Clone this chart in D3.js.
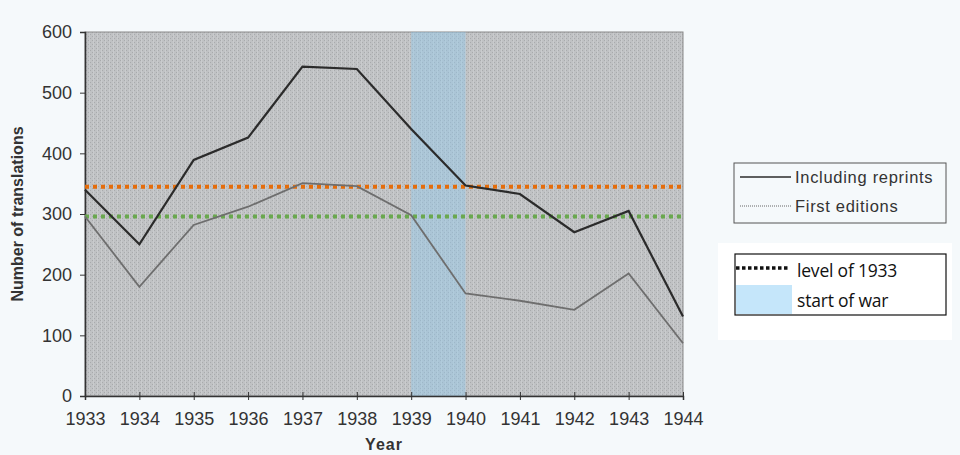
<!DOCTYPE html>
<html><head><meta charset="utf-8">
<script src="https://cdn.jsdelivr.net/npm/d3@7"></script>
<style>
html,body{margin:0;padding:0;background:#f5f9fb;}
svg{display:block;}
</style></head>
<body>
<svg id="chart" width="960" height="455"></svg>
<script>
const years = [1933,1934,1935,1936,1937,1938,1939,1940,1941,1942,1943,1944];
const includingReprints = [340,250,389,426,543,539,440,347,333,270,305,131];
const firstEditions = [296,180,282,312,351,346,298,169,157,142,202,87];
const level1933 = [345,296];
const levelColors = ["#e46c0a","#6aa84f"];
const warStart = [1939,1940];
const yTicks = [0,100,200,300,400,500,600];

const FONT = "Liberation Sans, Arial, Helvetica, sans-serif";
const svg = d3.select("#chart");
const x = d3.scaleLinear().domain([1933,1944]).range([85,683]);
const y = d3.scaleLinear().domain([0,600]).range([396,32]);

const defs = svg.append("defs");
const pat = defs.append("pattern").attr("id","tex").attr("patternUnits","userSpaceOnUse").attr("width",4).attr("height",4);
pat.append("rect").attr("width",4).attr("height",4).attr("fill","#c0c2c4");
pat.append("rect").attr("x",0).attr("y",0).attr("width",1).attr("height",1).attr("fill","#a8aaac");
pat.append("rect").attr("x",2).attr("y",2).attr("width",1).attr("height",1).attr("fill","#a8aaac");
pat.append("rect").attr("x",1).attr("y",0).attr("width",1).attr("height",4).attr("fill","#c9cbcd");

// plot background
svg.append("rect").attr("x",x(1933)).attr("y",y(600)).attr("width",x(1944)-x(1933)).attr("height",y(0)-y(600))
  .attr("fill","url(#tex)").attr("stroke","#8a8a8a").attr("stroke-width",1);

// war band
svg.append("rect").attr("x",x(warStart[0])).attr("y",y(600)).attr("width",x(warStart[1])-x(warStart[0])).attr("height",y(0)-y(600))
  .attr("fill","#8fcbef").attr("opacity",0.42);

// axes
const yAxis = d3.axisLeft(y).tickValues(yTicks).tickSize(5).tickPadding(8);
const gy = svg.append("g").attr("transform",`translate(${x(1933)},0)`).call(yAxis);
gy.attr("font-family",FONT).attr("font-size",18);
gy.select(".domain").attr("stroke","#333").attr("stroke-width",1.5);
gy.selectAll(".tick line").attr("stroke","#333");
gy.selectAll("text").attr("fill","#333").style("font-size","18px").style("font-family",FONT);

const xAxis = d3.axisBottom(x).tickValues(years).tickFormat(d3.format("d")).tickSize(4).tickPadding(12);
const gx = svg.append("g").attr("transform",`translate(0,${y(0)})`).call(xAxis);
gx.attr("font-family",FONT).attr("font-size",18);
gx.select(".domain").attr("stroke","#333").attr("stroke-width",1.5);
gx.selectAll(".tick line").attr("stroke","#333").attr("y1",-4);
gx.selectAll("text").attr("fill","#333").style("font-size","18px").style("font-family",FONT);

// level lines
level1933.forEach((v,i)=>{
  svg.append("line").attr("x1",x(1933)).attr("x2",x(1944)).attr("y1",y(v)).attr("y2",y(v))
    .attr("stroke",levelColors[i]).attr("stroke-width",4).attr("stroke-dasharray","4 4");
});

// series
const line = d3.line().x((d,i)=>x(years[i])).y(d=>y(d));
svg.append("path").datum(firstEditions).attr("d",line).attr("fill","none").attr("stroke","#6e6e6e").attr("stroke-width",1.8);
svg.append("path").datum(includingReprints).attr("d",line).attr("fill","none").attr("stroke","#2b2b2b").attr("stroke-width",2.2);

// axis titles
svg.append("text").attr("transform",`translate(23,214) rotate(-90)`).attr("text-anchor","middle")
  .style("font-family",FONT).attr("font-weight","bold").style("font-size","16px").attr("fill","#333")
  .text("Number of translations");
svg.append("text").attr("x",384).attr("y",450).attr("text-anchor","middle")
  .style("font-family",FONT).attr("font-weight","bold").style("font-size","16px").attr("letter-spacing",1).attr("fill","#333")
  .text("Year");

// legend 1
const l1 = svg.append("g");
l1.append("rect").attr("x",734).attr("y",163).attr("width",212).attr("height",60).attr("fill","none").attr("stroke","#555").attr("stroke-width",1);
l1.append("line").attr("x1",740).attr("x2",791).attr("y1",177).attr("y2",177).attr("stroke","#2b2b2b").attr("stroke-width",1.6);
l1.append("line").attr("x1",740).attr("x2",791).attr("y1",206).attr("y2",206).attr("stroke","#666").attr("stroke-width",1).attr("stroke-dasharray","1 1");
l1.append("text").attr("x",795).attr("y",183).style("font-family",FONT).style("font-size","16.5px").attr("letter-spacing",0.7).attr("fill","#333").text("Including reprints");
l1.append("text").attr("x",795).attr("y",212).style("font-family",FONT).style("font-size","16.5px").attr("letter-spacing",0.7).attr("fill","#333").text("First editions");

// legend 2
const l2 = svg.append("g");
l2.append("rect").attr("x",718).attr("y",243).attr("width",234).attr("height",97).attr("fill","#ffffff");
l2.append("rect").attr("x",735).attr("y",254).attr("width",211).attr("height",61).attr("fill","none").attr("stroke","#111").attr("stroke-width",1.2);
l2.append("line").attr("x1",736).attr("x2",790).attr("y1",268).attr("y2",268).attr("stroke","#111").attr("stroke-width",3.5).attr("stroke-dasharray","3.5 2.5");
l2.append("rect").attr("x",736).attr("y",285).attr("width",56).attr("height",29).attr("fill","#c5e6fa");
l2.append("text").attr("x",797).attr("y",277).style("font-family","Open Sans, sans-serif").style("font-size","17.5px").attr("letter-spacing",-0.2).attr("fill","#111").text("level of 1933");
l2.append("text").attr("x",797).attr("y",307).style("font-family","Open Sans, sans-serif").style("font-size","17.5px").attr("letter-spacing",-0.2).attr("fill","#111").text("start of war");
</script>
</body></html>
